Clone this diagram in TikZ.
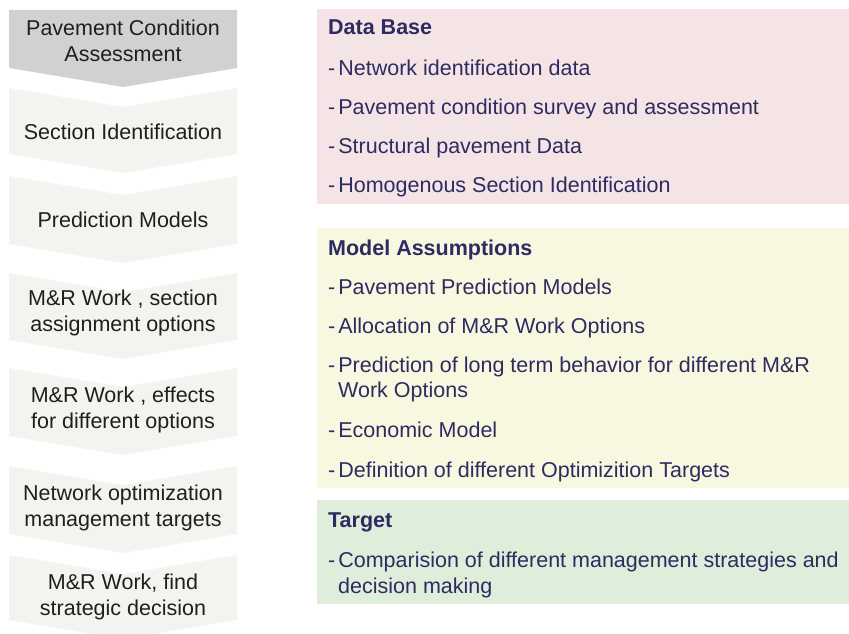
\documentclass[tikz,border=0pt]{standalone}
\usepackage{fontspec}
\setmainfont{Liberation Sans}
\definecolor{arrowgray}{HTML}{D1D1D3}
\definecolor{arrowlight}{HTML}{F3F3EF}
\definecolor{basepink}{HTML}{F5E4E6}
\definecolor{modelyellow}{HTML}{F8F8E0}
\definecolor{targetgreen}{HTML}{DEEEDA}
\definecolor{navytext}{HTML}{2E2B62}
\newcommand{\itemdash}{-\hspace{3pt}}
\begin{document}
\begin{tikzpicture}[x=1pt,y=-1pt,
    leftlabel/.style={align=center, text=black!88, font=\fontsize{21.5}{26.5}\selectfont},
    boxhead/.style={anchor=base west, inner sep=0pt, text=navytext, font=\fontsize{21.5}{26}\selectfont\bfseries},
    boxitem/.style={anchor=base west, inner sep=0pt, text=navytext, font=\fontsize{21.5}{26}\selectfont}]
    \useasboundingbox (0,0) rectangle (849,634);
    % Dibuja las flechas de la izquierda
    \fill[arrowgray]  (9,10) -- (237,10) -- (237,68) -- (123,87) -- (9,68) -- cycle;
    \fill[arrowlight] (9,88) -- (123,107) -- (237,88) -- (237,154) -- (123,173) -- (9,154) -- cycle;
    \fill[arrowlight] (9,176) -- (123,195) -- (237,176) -- (237,244) -- (123,263) -- (9,244) -- cycle;
    \fill[arrowlight] (9,273) -- (123,292) -- (237,273) -- (237,340) -- (123,359) -- (9,340) -- cycle;
    \fill[arrowlight] (9,368) -- (123,387) -- (237,368) -- (237,436) -- (123,455) -- (9,436) -- cycle;
    \fill[arrowlight] (9,466) -- (123,485) -- (237,466) -- (237,534) -- (123,553) -- (9,534) -- cycle;
    \fill[arrowlight] (9,555) -- (123,574) -- (237,555) -- (237,620) -- (123,639) -- (9,620) -- cycle;
    \node[leftlabel] (assessment) at (123,41)  {Pavement Condition\\Assessment};
    \node[leftlabel] (sections)   at (123,132) {Section Identification};
    \node[leftlabel] (prediction) at (123,220) {Prediction Models};
    \node[leftlabel] (assignment) at (123,313) {M\&R Work , section\\assignment options};
    \node[leftlabel] (effects)    at (123,410) {M\&R Work , effects\\for different options};
    \node[leftlabel] (network)    at (123,508) {Network optimization\\management targets};
    \node[leftlabel] (decision)   at (123,597) {M\&R Work, find\\strategic decision};
    % Cajas de la derecha
    \fill[basepink]    (317,9)   rectangle (849,204);
    \fill[modelyellow] (317,228) rectangle (849,488);
    \fill[targetgreen] (317,500) rectangle (849,604);
    \node[boxhead] (dbhead) at (328,35)  {Data Base};
    \node[boxitem] (db1)    at (328,76)  {\itemdash Network identification data};
    \node[boxitem] (db2)    at (328,114) {\itemdash Pavement condition survey and assessment};
    \node[boxitem] (db3)    at (328,153) {\itemdash Structural pavement Data};
    \node[boxitem] (db4)    at (328,192) {\itemdash Homogenous Section Identification};
    \node[boxhead] (mahead) at (328,255) {Model Assumptions};
    \node[boxitem] (ma1)    at (328,294) {\itemdash Pavement Prediction Models};
    \node[boxitem] (ma2)    at (328,333) {\itemdash Allocation of M\&R Work Options};
    \node[boxitem] (ma3)    at (328,372) {\itemdash Prediction of long term behavior for different M\&R};
    \node[boxitem] (ma3b)   at (338,397) {Work Options};
    \node[boxitem] (ma4)    at (328,437) {\itemdash Economic Model};
    \node[boxitem] (ma5)    at (328,477) {\itemdash Definition of different Optimizition Targets};
    \node[boxhead] (tghead) at (328,527) {Target};
    \node[boxitem] (tg1)    at (328,567) {\itemdash Comparision of different management strategies and};
    \node[boxitem] (tg1b)   at (338,593) {decision making};
\end{tikzpicture}
\end{document}
